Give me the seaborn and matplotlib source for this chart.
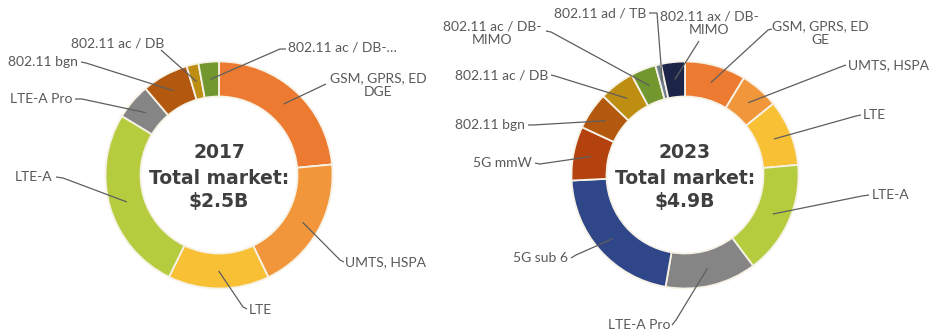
import matplotlib
matplotlib.use("Agg")
import matplotlib.pyplot as plt
import numpy as np
import seaborn as sns

# ---- market share by technology (percent of total) ----
segments_2017 = ["GSM, GPRS, ED\nDGE", "UMTS, HSPA", "LTE", "LTE-A", "LTE-A Pro",
                 "802.11 bgn", "802.11 ac / DB", "802.11 ac / DB-…"]
share_2017 = [23.5, 19.3, 14.4, 26.4, 5.1, 6.6, 1.7, 2.9]

segments_2023 = ["GSM, GPRS, ED\nGE", "UMTS, HSPA", "LTE", "LTE-A", "LTE-A Pro",
                 "5G sub 6", "5G mmW", "802.11 bgn", "802.11 ac / DB",
                 "802.11 ac / DB-\nMIMO", "802.11 ad / TB", "802.11 ax / DB-\nMIMO"]
share_2023 = [8.7, 5.5, 9.4, 16.2, 13.0, 21.5, 7.7, 5.3, 5.0, 3.6, 0.8, 3.4]

years = ["2017", "2023"]
totals = ["$2.5B", "$4.9B"]

# ---- styling ----
tech_colors = {
    "gsm": "#EC7A31", "umts": "#F1963B", "lte": "#F8C035", "ltea": "#B6CC3F",
    "ltepro": "#858585", "sub6": "#2F4789", "mmw": "#B3420F", "bgn": "#B2590F",
    "acdb": "#BE8E12", "mimo": "#71972E", "ad": "#6F7D8E", "ax": "#1C2548",
}
colors_2017 = [tech_colors[k] for k in
               ["gsm", "umts", "lte", "ltea", "ltepro", "bgn", "acdb", "mimo"]]
colors_2023 = [tech_colors[k] for k in
               ["gsm", "umts", "lte", "ltea", "ltepro", "sub6", "mmw", "bgn",
                "acdb", "mimo", "ad", "ax"]]

W, H = 932, 334
R_OUT, RING = 113.5, 35

# label placement in pixel coordinates (x, y from top), alignment, leader waypoints
layout_2017 = [
    (378, 85, "center", [(326, 84)]),
    (345, 262, "left", [(340, 260), (344, 262)]),
    (249, 310, "left", [(243, 307), (247, 309)]),
    (52, 177, "right", [(63, 178), (56, 177)]),
    (72, 99, "right", [(82, 99), (75, 99)]),
    (78, 62, "right", [(86, 63), (81, 62)]),
    (118, 43, "center", [(161, 50)]),
    (288, 48, "left", [(280, 49), (286, 49)]),
]
layout_2023 = [
    (820, 33, "center", [(768, 30), (772, 29)]),
    (848, 65, "left", [(843, 66), (846, 65)]),
    (863, 115, "left", [(856, 116), (861, 115)]),
    (872, 195, "left", [(862, 196), (869, 195)]),
    (670, 325, "right", [(676, 320), (672, 325)]),
    (568, 258, "right", [(576, 255), (571, 258)]),
    (532, 163, "right", [(540, 164), (535, 163)]),
    (525, 125, "right", [(533, 125), (528, 125)]),
    (548, 75, "right", [(555, 76), (551, 75)]),
    (492, 33, "center", [(551, 32), (546, 31)]),
    (646, 13, "right", [(657, 13), (649, 13)]),
    (709, 23, "center", [(699, 41)]),
]

charts = [
    (share_2017, segments_2017, colors_2017, layout_2017, (219, 175)),
    (share_2023, segments_2023, colors_2023, layout_2023, (685, 175)),
]

sns.set_theme(style="white")
plt.rcParams["font.family"] = ["Lato", "DejaVu Sans"]

fig = plt.figure(figsize=(W / 100, H / 100), dpi=100)
ax = fig.add_axes([0, 0, 1, 1])

label_color = "#595959"
line_color = "#5E5E5E"

for i, (shares, names, cols, layout, (cx, cy)) in enumerate(charts):
    center = (cx, H - cy)
    palette = sns.color_palette(cols)
    ax.pie(shares, colors=palette, startangle=90, counterclock=False,
           center=center, radius=R_OUT,
           wedgeprops=dict(width=RING, edgecolor="#F7F2E6", linewidth=1.3))

    # leader anchors sit mid-ring at each wedge's mid-angle
    vals = np.asarray(shares, dtype=float)
    frac = vals / vals.sum()
    mids = np.cumsum(frac) - frac / 2
    theta = np.deg2rad(90 - 360 * mids)
    r_mid = R_OUT - RING / 2
    ax_x = center[0] + r_mid * np.cos(theta)
    ax_y = center[1] + r_mid * np.sin(theta)

    for name, (tx, ty, ha, pts), px, py in zip(names, layout, ax_x, ax_y):
        xs = [px] + [p[0] for p in pts]
        ys = [py] + [H - p[1] for p in pts]
        ax.plot(xs, ys, color=line_color, lw=0.9, solid_capstyle="butt", zorder=3)
        ax.text(tx, H - ty, name, ha=ha, va="center", multialignment="center",
                fontsize=10, color=label_color, linespacing=1.15, zorder=4)

    # centre caption
    for txt, yy in zip([years[i], "Total market:", totals[i]], [152, 178, 202]):
        ax.text(cx, H - yy, txt, ha="center", va="center", fontsize=13.5,
                fontweight="bold", color="#3F3F3F", family="DejaVu Sans")

ax.set_xlim(0, W)
ax.set_ylim(0, H)
ax.set_aspect("equal")
ax.axis("off")

fig.savefig("out.png", dpi=100, facecolor="white")
